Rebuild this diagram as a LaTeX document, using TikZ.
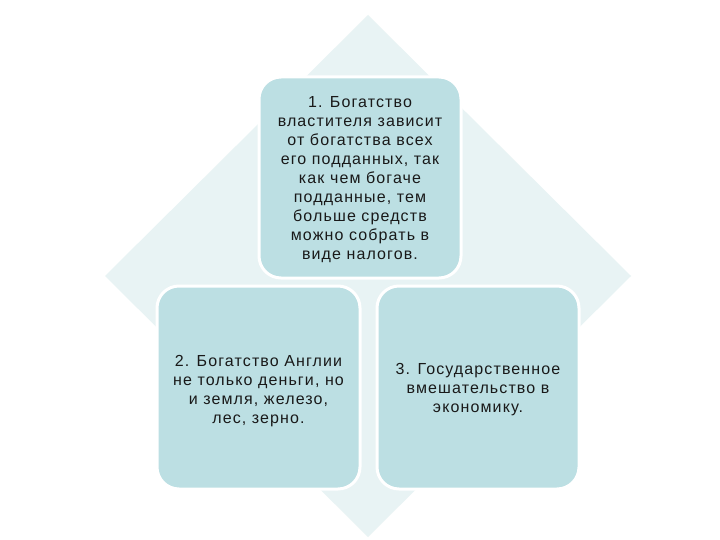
\documentclass[tikz,border=0pt]{standalone}
\usepackage{fontspec}
\setmainfont{Liberation Sans}
\newfontfamily\cardfont[LetterSpace=7]{Liberation Sans}
\definecolor{diam}{HTML}{E8F3F4}
\definecolor{boxfill}{HTML}{BCDFE3}
\tikzset{
  card/.style={draw=white, line width=3pt, fill=boxfill, rounded corners=22pt},
  cardtext/.style={align=center, font=\cardfont\fontsize{16}{19}\selectfont, text=black!90, inner sep=0pt}
}
\begin{document}
\begin{tikzpicture}[x=1pt,y=-1pt]
\useasboundingbox (0,0) rectangle (720,540);
\fill[white] (0,0) rectangle (720,540);
\fill[diam] (368,15) -- (631,276) -- (368,537) -- (105,276) -- cycle;
\draw[card] (259,77) rectangle (461,278);
\draw[card] (157,286) rectangle (360,489);
\draw[card] (377,286) rectangle (579,489);
\node[cardtext] (t1) at (360,180) {1. Богатство\\властителя зависит\\от богатства всех\\его подданных, так\\как чем богаче\\подданные, тем\\больше средств\\можно собрать в\\виде налогов.};
\node[cardtext] (t2) at (258.5,391) {2. Богатство Англии\\не только деньги, но\\и земля, железо,\\лес, зерно.};
\node[cardtext] (t3) at (478,390) {3. Государственное\\вмешательство в\\экономику.};
\end{tikzpicture}
\end{document}
